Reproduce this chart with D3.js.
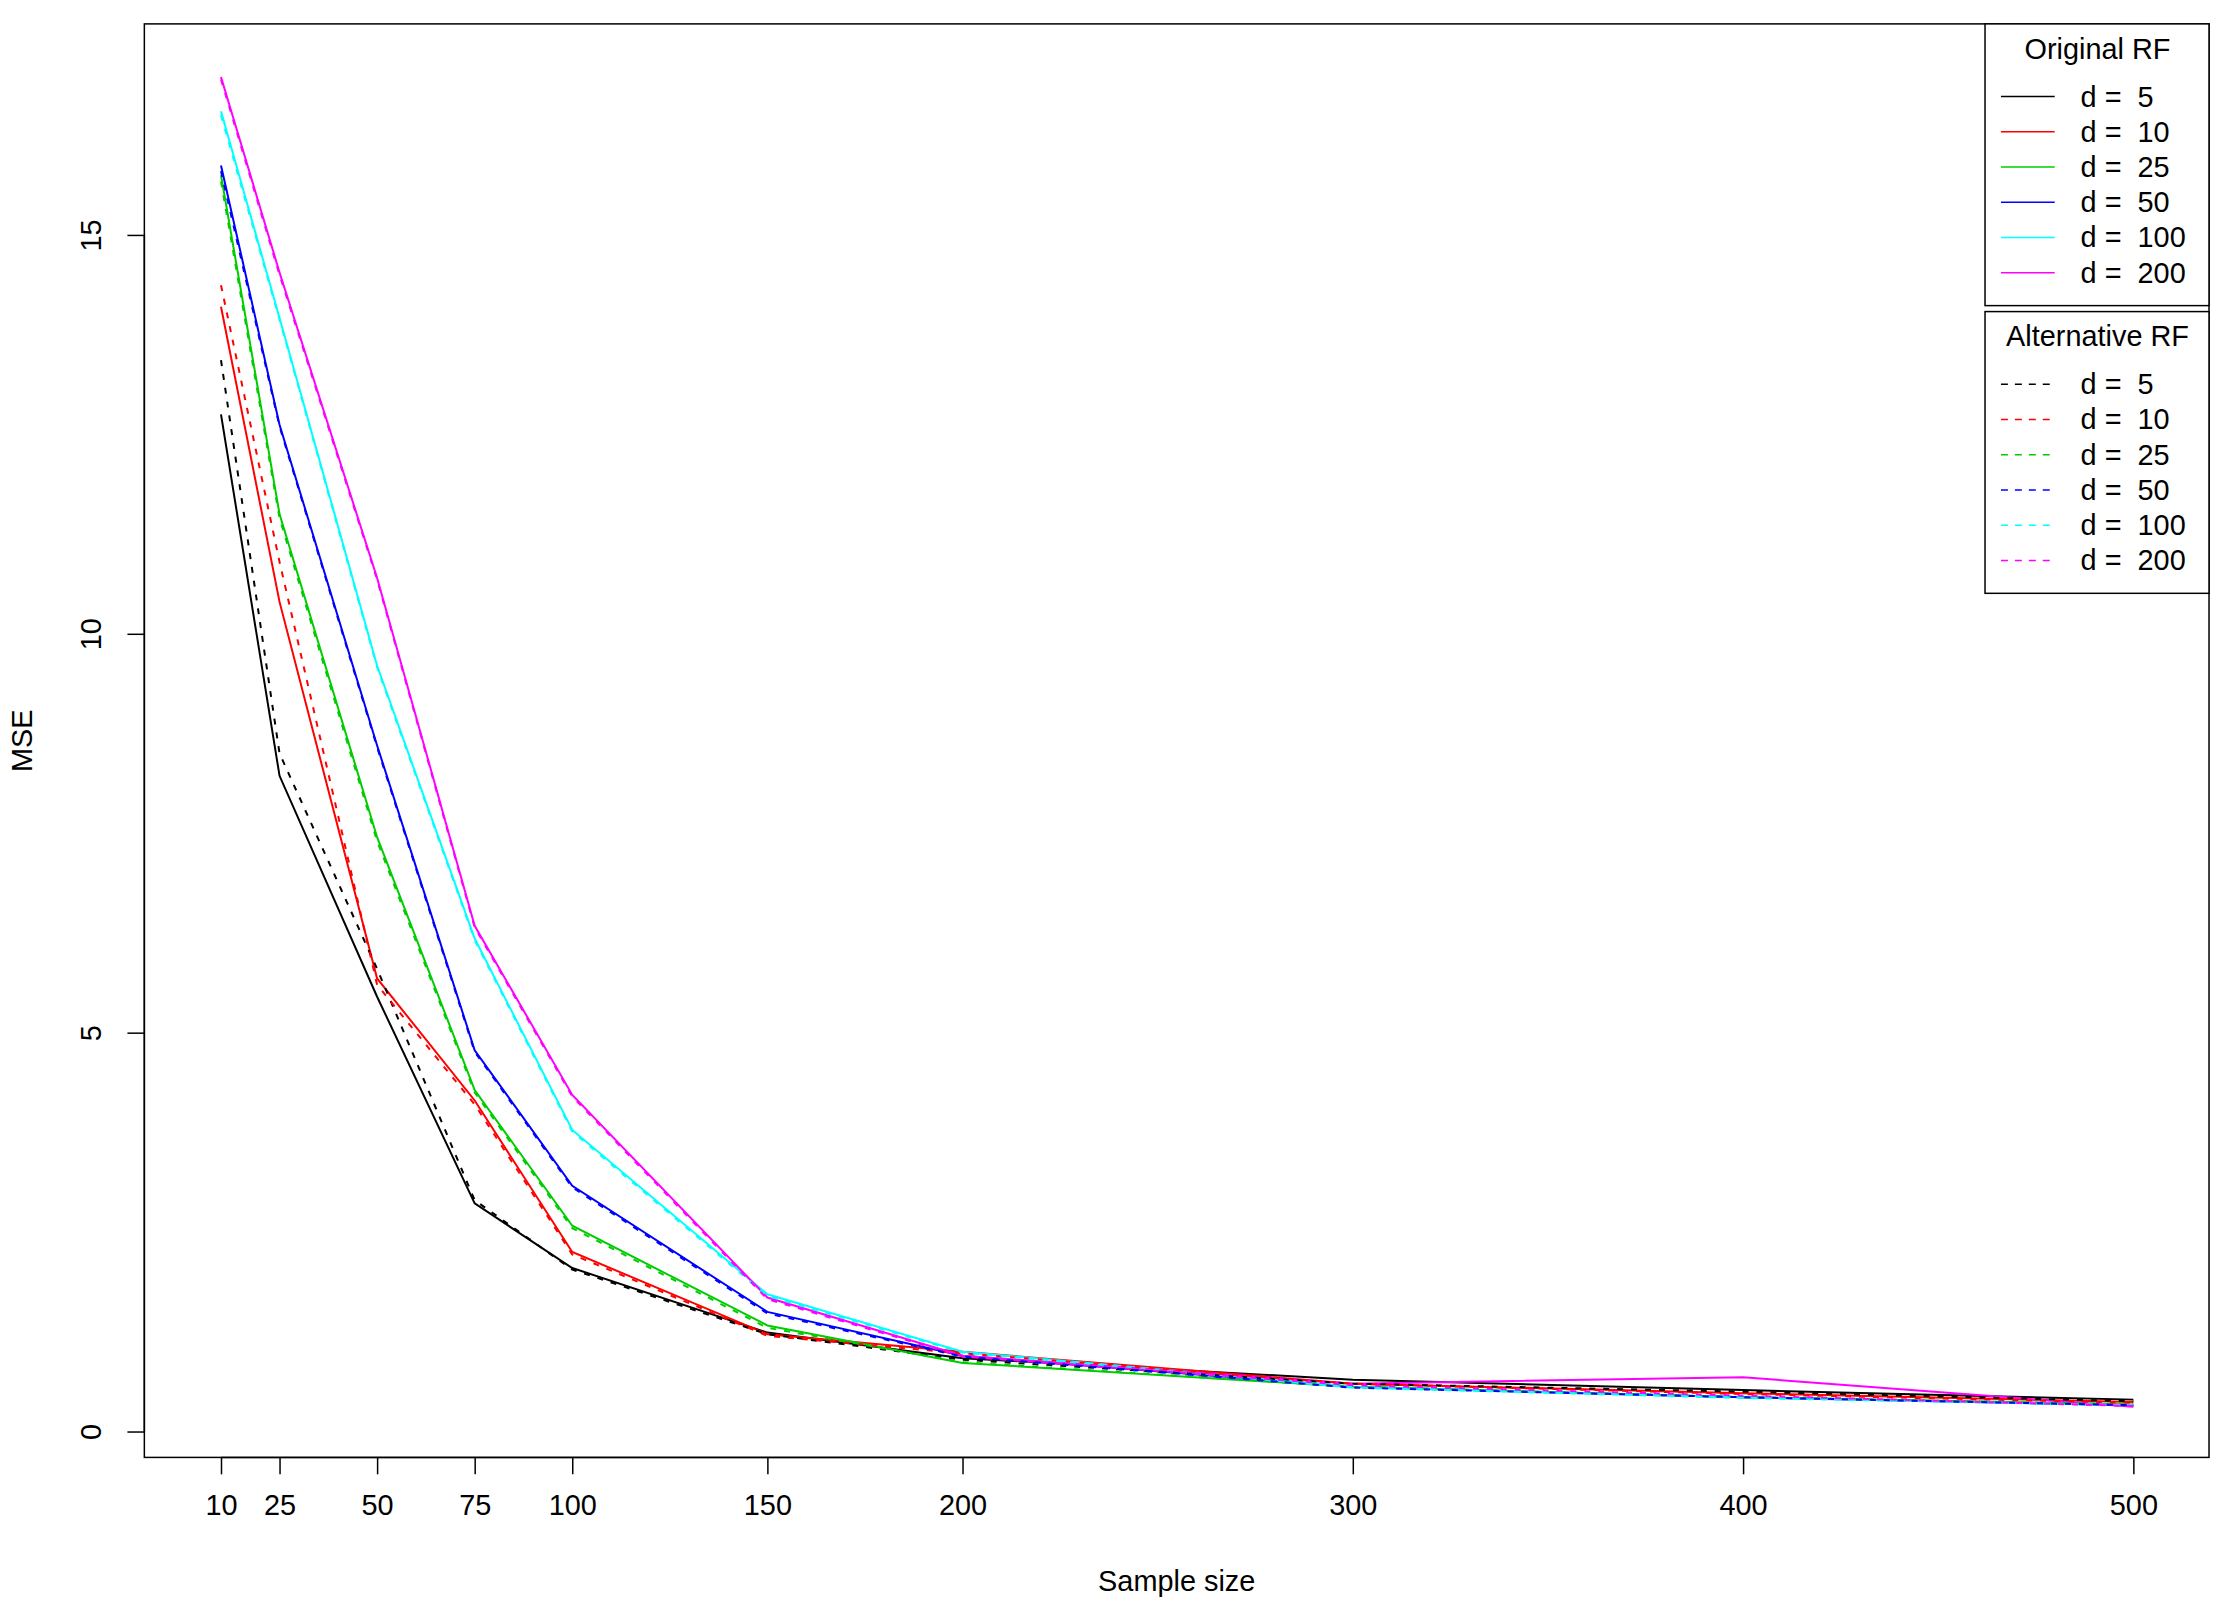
<!DOCTYPE html>
<head>
<meta charset="utf-8">
<style>
  body { margin: 0; background: #fff; }
  svg text { font-family: "Liberation Sans", Arial, sans-serif; font-size: 29px; fill: #000; }
</style>
</head>
<body>
<script src="https://d3js.org/d3.v7.min.js"></script>
<script>
// sample sizes and MSE per dimension d
var sizes = [10, 25, 50, 75, 100, 150, 200, 300, 400, 500];
var dims = [5, 10, 25, 50, 100, 200];
var colors = ["#000000", "#ff0000", "#00cd00", "#0000ff", "#00ffff", "#ff00ff"];

var origMSE = [
  [12.75, 8.22, 5.45, 2.86, 2.05, 1.24, 0.92, 0.65, 0.52, 0.40],
  [14.10, 10.40, 5.68, 4.15, 2.25, 1.22, 1.00, 0.60, 0.48, 0.37],
  [15.75, 11.50, 7.45, 4.28, 2.58, 1.33, 0.86, 0.56, 0.43, 0.34],
  [15.87, 12.62, 8.60, 4.78, 3.08, 1.50, 0.95, 0.56, 0.43, 0.33],
  [16.55, 13.96, 9.60, 6.18, 3.78, 1.72, 1.00, 0.56, 0.43, 0.33],
  [16.98, 14.53, 10.70, 6.34, 4.22, 1.68, 0.95, 0.60, 0.68, 0.31]
];
var altMSE = [
  [13.43, 8.50, 5.80, 2.90, 2.03, 1.22, 0.90, 0.60, 0.50, 0.38],
  [14.37, 10.90, 5.60, 4.10, 2.22, 1.20, 0.98, 0.60, 0.47, 0.36],
  [15.67, 11.45, 7.40, 4.25, 2.55, 1.30, 0.87, 0.56, 0.43, 0.34],
  [15.80, 12.60, 8.58, 4.76, 3.06, 1.48, 0.94, 0.55, 0.43, 0.33],
  [16.50, 13.94, 9.58, 6.16, 3.76, 1.70, 0.99, 0.55, 0.42, 0.33],
  [16.95, 14.50, 10.68, 6.32, 4.20, 1.66, 0.94, 0.58, 0.45, 0.32]
];
var yTicks = [0, 5, 10, 15];

var W = 2235, H = 1622;
var box = { left: 145, right: 2219, top: 24, bottom: 1464 };

var svg = d3.select("body").append("svg")
    .attr("width", W).attr("height", H)
  .append("g")
    .attr("transform", "scale(0.9955)");

var x = d3.scaleLinear().domain([10, 500]).range([222, 2143]);
var y = d3.scaleLinear().domain([0, 15]).range([1438, 236]);

// plot frame
svg.append("rect")
    .attr("x", box.left).attr("y", box.top)
    .attr("width", box.right - box.left).attr("height", box.bottom - box.top)
    .attr("fill", "none").attr("stroke", "#000").attr("stroke-width", 1.5);

// x axis
var xAxis = d3.axisBottom(x).tickValues(sizes).tickSize(17).tickSizeOuter(0);
var gx = svg.append("g").attr("transform", "translate(0," + box.bottom + ")").call(xAxis);
gx.select(".domain").attr("d", "M" + x(10) + ",0H" + x(500)).attr("stroke-width", 1.5);
gx.selectAll(".tick line").attr("stroke-width", 1.5);
gx.selectAll(".tick text").attr("dy", 0).attr("y", 58)
    .style("font-size", "29px").style("font-family", "Liberation Sans, Arial, sans-serif");

// y axis
var yAxis = d3.axisLeft(y).tickValues(yTicks).tickSize(17).tickSizeOuter(0);
var gy = svg.append("g").attr("transform", "translate(" + box.left + ",0)").call(yAxis);
gy.select(".domain").attr("d", "M0," + y(0) + "V" + y(15)).attr("stroke-width", 1.5);
gy.selectAll(".tick line").attr("stroke-width", 1.5);
gy.selectAll(".tick text")
    .attr("x", 0).attr("dy", 0)
    .attr("transform", "translate(-44,0) rotate(-90)")
    .attr("text-anchor", "middle")
    .style("font-size", "29px").style("font-family", "Liberation Sans, Arial, sans-serif");

svg.append("text").attr("x", (box.left + box.right) / 2).attr("y", 1598)
    .attr("text-anchor", "middle").text("Sample size");
svg.append("text").attr("transform", "translate(32," + (box.top + box.bottom) / 2 + ") rotate(-90)")
    .attr("text-anchor", "middle").text("MSE");

// lines
var line = d3.line().x(function (d, i) { return x(sizes[i]); }).y(function (d) { return y(d); });
var plot = svg.append("g");
origMSE.forEach(function (s, k) {
  plot.append("path").attr("d", line(s)).attr("fill", "none")
      .attr("stroke", colors[k]).attr("stroke-width", 2);
});
altMSE.forEach(function (s, k) {
  plot.append("path").attr("d", line(s)).attr("fill", "none")
      .attr("stroke", colors[k]).attr("stroke-width", 2)
      .attr("stroke-dasharray", "6,8");
});

// legends
function legend(top, title, dash) {
  var g = svg.append("g");
  g.append("rect").attr("x", 1994).attr("y", top).attr("width", 2219 - 1994).attr("height", 283)
      .attr("fill", "#fff").attr("stroke", "#000").attr("stroke-width", 1.5);
  g.append("text").attr("x", 2107).attr("y", top + 35).attr("text-anchor", "middle").text(title);
  dims.forEach(function (d, k) {
    var yy = top + 73 + k * 35.4;
    g.append("line").attr("x1", 2010).attr("x2", 2064).attr("y1", yy).attr("y2", yy)
        .attr("stroke", colors[k]).attr("stroke-width", 1.5)
        .attr("stroke-dasharray", dash ? "7,7" : null);
    g.append("text").attr("x", 2090).attr("y", yy + 10).attr("xml:space", "preserve")
        .text("d =  " + d);
  });
}
legend(24, "Original RF", false);
legend(313, "Alternative RF", true);
</script>
</body>
</html>
